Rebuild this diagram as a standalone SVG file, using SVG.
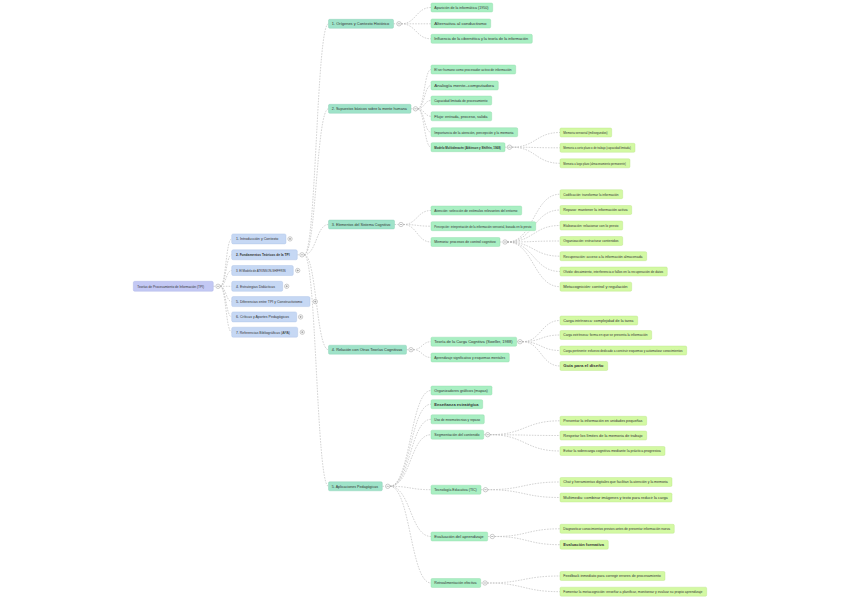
<svg xmlns="http://www.w3.org/2000/svg" width="848" height="599" viewBox="0 0 848 599">
<style>
.t{font-family:"Liberation Sans",Arial,sans-serif;font-size:3.6px;fill:#333}
.b{font-weight:bold}
.r0{fill:#c3c8f4;stroke:#a9b0e6;stroke-width:0.4}
.r1{fill:#c6d8f4;stroke:#a9c0e6;stroke-width:0.4}
.r2{fill:#9fe3c9;stroke:#86cdb1;stroke-width:0.4}
.r3{fill:#a9efc3;stroke:#8fd9a9;stroke-width:0.4}
.r4{fill:#d3f9a3;stroke:#b9e485;stroke-width:0.4}
.k circle{fill:#fff;stroke:#9a9a9a;stroke-width:0.5}
.k path{stroke:#777;stroke-width:0.5;fill:none}
#links path{fill:none;stroke:#b5b5b5;stroke-width:0.6;stroke-dasharray:1.6 1.2}
</style>
<rect width="848" height="599" fill="#fff"/>
<g id="links">
<path d="M213.3 286.3H215.8"/>
<path d="M220.2 286.3C225.95 286.3 225.95 238.9 231.7 238.9"/>
<path d="M220.2 286.3C225.95 286.3 225.95 254.8 231.7 254.8"/>
<path d="M220.2 286.3C225.95 286.3 225.95 270.5 231.7 270.5"/>
<path d="M220.2 286.3H231.7"/>
<path d="M220.2 286.3C225.95 286.3 225.95 301.6 231.7 301.6"/>
<path d="M220.2 286.3C225.95 286.3 225.95 316.9 231.7 316.9"/>
<path d="M220.2 286.3C225.95 286.3 225.95 332.2 231.7 332.2"/>
<path d="M297.3 254.8H299.8"/>
<path d="M304.2 254.8C316.35 254.8 316.35 23.8 328.5 23.8"/>
<path d="M304.2 254.8C316.35 254.8 316.35 108.8 328.5 108.8"/>
<path d="M304.2 254.8C316.35 254.8 316.35 224.5 328.5 224.5"/>
<path d="M304.2 254.8C316.35 254.8 316.35 349.7 328.5 349.7"/>
<path d="M304.2 254.8C316.35 254.8 316.35 486.3 328.5 486.3"/>
<path d="M393.5 23.8H396.8"/>
<path d="M401.2 23.8C416.1 23.8 416.1 7.5 431 7.5"/>
<path d="M401.2 23.8H431"/>
<path d="M401.2 23.8C416.1 23.8 416.1 38.8 431 38.8"/>
<path d="M411 108.8H413.3"/>
<path d="M417.7 108.8C424.35 108.8 424.35 69.5 431 69.5"/>
<path d="M417.7 108.8C424.35 108.8 424.35 85.5 431 85.5"/>
<path d="M417.7 108.8C424.35 108.8 424.35 100.5 431 100.5"/>
<path d="M417.7 108.8C424.35 108.8 424.35 116.3 431 116.3"/>
<path d="M417.7 108.8C424.35 108.8 424.35 132.2 431 132.2"/>
<path d="M417.7 108.8C424.35 108.8 424.35 147.2 431 147.2"/>
<path d="M394.5 224.5H398.8"/>
<path d="M403.2 224.5C417.1 224.5 417.1 210.5 431 210.5"/>
<path d="M403.2 224.5C417.1 224.5 417.1 226.2 431 226.2"/>
<path d="M403.2 224.5C417.1 224.5 417.1 242 431 242"/>
<path d="M406.5 349.7H408.8"/>
<path d="M413.2 349.7C422.1 349.7 422.1 341.7 431 341.7"/>
<path d="M413.2 349.7C422.1 349.7 422.1 357.5 431 357.5"/>
<path d="M382.3 486.3H385.5"/>
<path d="M389.9 486.3C410.45 486.3 410.45 390.5 431 390.5"/>
<path d="M389.9 486.3C410.45 486.3 410.45 404.2 431 404.2"/>
<path d="M389.9 486.3C410.45 486.3 410.45 419.3 431 419.3"/>
<path d="M389.9 486.3C410.45 486.3 410.45 434.7 431 434.7"/>
<path d="M389.9 486.3C410.45 486.3 410.45 489.7 431 489.7"/>
<path d="M389.9 486.3C410.45 486.3 410.45 536.5 431 536.5"/>
<path d="M389.9 486.3C410.45 486.3 410.45 583 431 583"/>
<path d="M505 147.2H507.3"/>
<path d="M511.7 147.2C535.85 147.2 535.85 132.5 560 132.5"/>
<path d="M511.7 147.2C535.85 147.2 535.85 147.8 560 147.8"/>
<path d="M511.7 147.2C535.85 147.2 535.85 163.3 560 163.3"/>
<path d="M500 242H502.8"/>
<path d="M507.2 242C533.6 242 533.6 194.2 560 194.2"/>
<path d="M507.2 242C533.6 242 533.6 210 560 210"/>
<path d="M507.2 242C533.6 242 533.6 225.5 560 225.5"/>
<path d="M507.2 242C533.6 242 533.6 241 560 241"/>
<path d="M507.2 242C533.6 242 533.6 256.2 560 256.2"/>
<path d="M507.2 242C533.6 242 533.6 271.5 560 271.5"/>
<path d="M507.2 242C533.6 242 533.6 286.7 560 286.7"/>
<path d="M516.7 341.7H517.8"/>
<path d="M522.2 341.7C541.1 341.7 541.1 320.5 560 320.5"/>
<path d="M522.2 341.7C541.1 341.7 541.1 335 560 335"/>
<path d="M522.2 341.7C541.1 341.7 541.1 350.5 560 350.5"/>
<path d="M522.2 341.7C541.1 341.7 541.1 366 560 366"/>
<path d="M483.7 434.7H485.5"/>
<path d="M489.9 434.7C524.95 434.7 524.95 420.8 560 420.8"/>
<path d="M489.9 434.7C524.95 434.7 524.95 435.5 560 435.5"/>
<path d="M489.9 434.7C524.95 434.7 524.95 451 560 451"/>
<path d="M481 489.7H483.3"/>
<path d="M487.7 489.7C523.85 489.7 523.85 482 560 482"/>
<path d="M487.7 489.7C523.85 489.7 523.85 497.5 560 497.5"/>
<path d="M487.7 536.5H490.1"/>
<path d="M494.5 536.5C527.25 536.5 527.25 528.8 560 528.8"/>
<path d="M494.5 536.5C527.25 536.5 527.25 544.7 560 544.7"/>
<path d="M480.7 583H482.8"/>
<path d="M487.2 583C523.6 583 523.6 576 560 576"/>
<path d="M487.2 583C523.6 583 523.6 591.7 560 591.7"/>
</g>

<g id="n-root"><rect class="r0" x="133.3" y="281.3" width="80" height="10" rx="1.5"/><text class="t" x="137.3" y="287.6" textLength="66.7" lengthAdjust="spacingAndGlyphs">Teorías de Procesamiento de Información (TPI)</text></g>

<g id="n1-1"><rect class="r1" x="231.7" y="233.9" width="54.3" height="10" rx="1.5"/><text class="t" x="236" y="240.2" textLength="42.3" lengthAdjust="spacingAndGlyphs">1. Introducción y Contexto</text></g>
<g id="n1-2"><rect class="r1" x="231.7" y="249.8" width="65.6" height="10" rx="1.5"/><text class="t b" x="236" y="256.1" textLength="53.6" lengthAdjust="spacingAndGlyphs">2. Fundamentos Teóricos de la TPI</text></g>
<g id="n1-3"><rect class="r1" x="231.7" y="265.5" width="61.6" height="10" rx="1.5"/><text class="t" x="236" y="271.8" textLength="49.6" lengthAdjust="spacingAndGlyphs">3. El Modelo de ATKINSON-SHIFFRIN</text></g>
<g id="n1-4"><rect class="r1" x="231.7" y="281.3" width="51" height="10" rx="1.5"/><text class="t" x="236" y="287.6" textLength="39" lengthAdjust="spacingAndGlyphs">4. Estrategias Didácticas</text></g>
<g id="n1-5"><rect class="r1" x="231.7" y="296.6" width="78.3" height="10" rx="1.5"/><text class="t" x="236" y="302.9" textLength="66.3" lengthAdjust="spacingAndGlyphs">5. Diferencias entre TPI y Constructivismo</text></g>
<g id="n1-6"><rect class="r1" x="231.7" y="311.9" width="65" height="10" rx="1.5"/><text class="t" x="236" y="318.2" textLength="53" lengthAdjust="spacingAndGlyphs">6. Críticas y Aportes Pedagógicos</text></g>
<g id="n1-7"><rect class="r1" x="231.7" y="327.2" width="66" height="10" rx="1.5"/><text class="t" x="236" y="333.5" textLength="54" lengthAdjust="spacingAndGlyphs">7. Referencias Bibliográficas (APA)</text></g>

<g id="n2-a"><rect class="r2" x="328.5" y="19.3" width="65" height="9" rx="1.3"/><text class="t" x="331.8" y="25.1" textLength="57.5" lengthAdjust="spacingAndGlyphs">1. Orígenes y Contexto Histórico</text></g>
<g id="n2-b"><rect class="r2" x="328.5" y="104.3" width="82.5" height="9" rx="1.3"/><text class="t" x="331.8" y="110.1" textLength="75" lengthAdjust="spacingAndGlyphs">2. Supuestos básicos sobre la mente humana</text></g>
<g id="n2-c"><rect class="r2" x="328.5" y="220" width="66" height="9" rx="1.3"/><text class="t" x="331.8" y="225.8" textLength="58.5" lengthAdjust="spacingAndGlyphs">3. Elementos del Sistema Cognitivo</text></g>
<g id="n2-d"><rect class="r2" x="328.5" y="345.2" width="78" height="9" rx="1.3"/><text class="t" x="331.8" y="351" textLength="70.5" lengthAdjust="spacingAndGlyphs">4. Relación con Otras Teorías Cognitivas</text></g>
<g id="n2-e"><rect class="r2" x="328.5" y="481.8" width="53.8" height="9" rx="1.3"/><text class="t" x="331.8" y="487.6" textLength="46.3" lengthAdjust="spacingAndGlyphs">5. Aplicaciones Pedagógicas</text></g>

<g id="n3-a1"><rect class="r3" x="431" y="3" width="61.7" height="9" rx="1.3"/><text class="t" x="434.3" y="8.8" textLength="54.2" lengthAdjust="spacingAndGlyphs">Aparición de la informática (1950)</text></g>
<g id="n3-a2"><rect class="r3" x="431" y="19" width="59.7" height="9" rx="1.3"/><text class="t" x="434.3" y="24.8" textLength="52.2" lengthAdjust="spacingAndGlyphs">Alternativa al conductismo</text></g>
<g id="n3-a3"><rect class="r3" x="431" y="34.3" width="101.3" height="9" rx="1.3"/><text class="t" x="434.3" y="40.1" textLength="93.8" lengthAdjust="spacingAndGlyphs">Influencia de la cibernética y la teoría de la información</text></g>

<g id="n3-b1"><rect class="r3" x="431" y="65" width="84.7" height="9" rx="1.3"/><text class="t" x="434.3" y="70.8" textLength="77.2" lengthAdjust="spacingAndGlyphs">El ser humano como procesador activo de información</text></g>
<g id="n3-b2"><rect class="r3" x="431" y="81" width="67.3" height="9" rx="1.3"/><text class="t" x="434.3" y="86.8" textLength="59.8" lengthAdjust="spacingAndGlyphs">Analogía mente–computadora</text></g>
<g id="n3-b3"><rect class="r3" x="431" y="96" width="60.7" height="9" rx="1.3"/><text class="t" x="434.3" y="101.8" textLength="53.2" lengthAdjust="spacingAndGlyphs">Capacidad limitada de procesamiento</text></g>
<g id="n3-b4"><rect class="r3" x="431" y="111.8" width="60.7" height="9" rx="1.3"/><text class="t" x="434.3" y="117.6" textLength="53.2" lengthAdjust="spacingAndGlyphs">Flujo: entrada, proceso, salida</text></g>
<g id="n3-b5"><rect class="r3" x="431" y="127.7" width="86.7" height="9" rx="1.3"/><text class="t" x="434.3" y="133.5" textLength="79.2" lengthAdjust="spacingAndGlyphs">Importancia de la atención, percepción y la memoria</text></g>
<g id="n3-b6"><rect class="r3" x="431" y="142.7" width="74" height="9" rx="1.3"/><text class="t b" x="434.3" y="148.5" textLength="66.5" lengthAdjust="spacingAndGlyphs">Modelo Multialmacén (Atkinson y Shiffrin, 1968)</text></g>

<g id="n4-b6-1"><rect class="r4" x="560" y="128" width="51.7" height="9" rx="1.3"/><text class="t" x="563.3" y="133.8" textLength="44.2" lengthAdjust="spacingAndGlyphs">Memoria sensorial (milisegundos)</text></g>
<g id="n4-b6-2"><rect class="r4" x="560" y="143.3" width="75" height="9" rx="1.3"/><text class="t" x="563.3" y="149.1" textLength="67.5" lengthAdjust="spacingAndGlyphs">Memoria a corto plazo o de trabajo (capacidad limitada)</text></g>
<g id="n4-b6-3"><rect class="r4" x="560" y="158.8" width="70" height="9" rx="1.3"/><text class="t" x="563.3" y="164.6" textLength="62.5" lengthAdjust="spacingAndGlyphs">Memoria a largo plazo (almacenamiento permanente)</text></g>

<g id="n3-c1"><rect class="r3" x="431" y="206" width="90.7" height="9" rx="1.3"/><text class="t" x="434.3" y="211.8" textLength="83.2" lengthAdjust="spacingAndGlyphs">Atención: selección de estímulos relevantes del entorno</text></g>
<g id="n3-c2"><rect class="r3" x="431" y="221.7" width="104.7" height="9" rx="1.3"/><text class="t" x="434.3" y="227.5" textLength="97.2" lengthAdjust="spacingAndGlyphs">Percepción: interpretación de la información sensorial, basada en lo previo</text></g>
<g id="n3-c3"><rect class="r3" x="431" y="237.5" width="69" height="9" rx="1.3"/><text class="t" x="434.3" y="243.3" textLength="61.5" lengthAdjust="spacingAndGlyphs">Memoria: procesos de control cognitivo</text></g>

<g id="n4-c3-1"><rect class="r4" x="560" y="189.7" width="62.7" height="9" rx="1.3"/><text class="t" x="563.3" y="195.5" textLength="55.2" lengthAdjust="spacingAndGlyphs">Codificación: transformar la información</text></g>
<g id="n4-c3-2"><rect class="r4" x="560" y="205.5" width="71.7" height="9" rx="1.3"/><text class="t" x="563.3" y="211.3" textLength="64.2" lengthAdjust="spacingAndGlyphs">Repaso: mantener la información activa</text></g>
<g id="n4-c3-3"><rect class="r4" x="560" y="221" width="62.7" height="9" rx="1.3"/><text class="t" x="563.3" y="226.8" textLength="55.2" lengthAdjust="spacingAndGlyphs">Elaboración: relacionar con lo previo</text></g>
<g id="n4-c3-4"><rect class="r4" x="560" y="236.5" width="62.7" height="9" rx="1.3"/><text class="t" x="563.3" y="242.3" textLength="55.2" lengthAdjust="spacingAndGlyphs">Organización: estructurar contenidos</text></g>
<g id="n4-c3-5"><rect class="r4" x="560" y="251.7" width="86.7" height="9" rx="1.3"/><text class="t" x="563.3" y="257.5" textLength="79.2" lengthAdjust="spacingAndGlyphs">Recuperación: acceso a la información almacenada</text></g>
<g id="n4-c3-6"><rect class="r4" x="560" y="267" width="107.3" height="9" rx="1.3"/><text class="t" x="563.3" y="272.8" textLength="99.8" lengthAdjust="spacingAndGlyphs">Olvido: decaimiento, interferencia o fallos en la recuperación de datos</text></g>
<g id="n4-c3-7"><rect class="r4" x="560" y="282.2" width="71.7" height="9" rx="1.3"/><text class="t" x="563.3" y="288" textLength="64.2" lengthAdjust="spacingAndGlyphs">Metacognición: control y regulación</text></g>

<g id="n3-d1"><rect class="r3" x="431" y="337.2" width="85.7" height="9" rx="1.3"/><text class="t" x="434.3" y="343" textLength="78.2" lengthAdjust="spacingAndGlyphs">Teoría de la Carga Cognitiva (Sweller, 1988)</text></g>
<g id="n3-d2"><rect class="r3" x="431" y="353" width="78.3" height="9" rx="1.3"/><text class="t" x="434.3" y="358.8" textLength="70.8" lengthAdjust="spacingAndGlyphs">Aprendizaje significativo y esquemas mentales</text></g>

<g id="n4-d1-1"><rect class="r4" x="560" y="316" width="77.7" height="9" rx="1.3"/><text class="t" x="563.3" y="321.8" textLength="70.2" lengthAdjust="spacingAndGlyphs">Carga intrínseca: complejidad de la tarea</text></g>
<g id="n4-d1-2"><rect class="r4" x="560" y="330.5" width="91.7" height="9" rx="1.3"/><text class="t" x="563.3" y="336.3" textLength="84.2" lengthAdjust="spacingAndGlyphs">Carga extrínseca: forma en que se presenta la información</text></g>
<g id="n4-d1-3"><rect class="r4" x="560" y="346" width="126.7" height="9" rx="1.3"/><text class="t" x="563.3" y="351.8" textLength="119.2" lengthAdjust="spacingAndGlyphs">Carga pertinente: esfuerzo dedicado a construir esquemas y automatizar conocimientos</text></g>
<g id="n4-d1-4"><rect class="r4" x="560" y="361.5" width="47.7" height="9" rx="1.3"/><text class="t b" x="563.3" y="367.3" textLength="40.2" lengthAdjust="spacingAndGlyphs">Guía para el diseño</text></g>

<g id="n3-e1"><rect class="r3" x="431" y="386" width="61" height="9" rx="1.3"/><text class="t" x="434.3" y="391.8" textLength="53.5" lengthAdjust="spacingAndGlyphs">Organizadores gráficos (mapas)</text></g>
<g id="n3-e2"><rect class="r3" x="431" y="399.7" width="51.7" height="9" rx="1.3"/><text class="t b" x="434.3" y="405.5" textLength="44.2" lengthAdjust="spacingAndGlyphs">Enseñanza estratégica</text></g>
<g id="n3-e3"><rect class="r3" x="431" y="414.8" width="53.3" height="9" rx="1.3"/><text class="t" x="434.3" y="420.6" textLength="45.8" lengthAdjust="spacingAndGlyphs">Uso de mnemotecnias y repaso</text></g>
<g id="n3-e4"><rect class="r3" x="431" y="430.2" width="52.7" height="9" rx="1.3"/><text class="t" x="434.3" y="436" textLength="45.2" lengthAdjust="spacingAndGlyphs">Segmentación del contenido</text></g>

<g id="n4-e4-1"><rect class="r4" x="560" y="416.3" width="86.7" height="9" rx="1.3"/><text class="t" x="563.3" y="422.1" textLength="79.2" lengthAdjust="spacingAndGlyphs">Presentar la información en unidades pequeñas</text></g>
<g id="n4-e4-2"><rect class="r4" x="560" y="431" width="86.7" height="9" rx="1.3"/><text class="t" x="563.3" y="436.8" textLength="79.2" lengthAdjust="spacingAndGlyphs">Respetar los límites de la memoria de trabajo</text></g>
<g id="n4-e4-3"><rect class="r4" x="560" y="446.5" width="105" height="9" rx="1.3"/><text class="t" x="563.3" y="452.3" textLength="97.5" lengthAdjust="spacingAndGlyphs">Evitar la sobrecarga cognitiva mediante la práctica progresiva</text></g>

<g id="n3-e5"><rect class="r3" x="431" y="485.2" width="50" height="9" rx="1.3"/><text class="t" x="434.3" y="491" textLength="42.5" lengthAdjust="spacingAndGlyphs">Tecnología Educativa (TIC)</text></g>
<g id="n4-e5-1"><rect class="r4" x="560" y="477.5" width="112" height="9" rx="1.3"/><text class="t" x="563.3" y="483.3" textLength="104.5" lengthAdjust="spacingAndGlyphs">Chat y herramientas digitales que facilitan la atención y la memoria</text></g>
<g id="n4-e5-2"><rect class="r4" x="560" y="493" width="112" height="9" rx="1.3"/><text class="t" x="563.3" y="498.8" textLength="104.5" lengthAdjust="spacingAndGlyphs">Multimedia: combinar imágenes y texto para reducir la carga</text></g>

<g id="n3-e6"><rect class="r3" x="431" y="532" width="56.7" height="9" rx="1.3"/><text class="t" x="434.3" y="537.8" textLength="49.2" lengthAdjust="spacingAndGlyphs">Evaluación del aprendizaje</text></g>
<g id="n4-e6-1"><rect class="r4" x="560" y="524.3" width="114.3" height="9" rx="1.3"/><text class="t" x="563.3" y="530.1" textLength="106.8" lengthAdjust="spacingAndGlyphs">Diagnosticar conocimientos previos antes de presentar información nueva</text></g>
<g id="n4-e6-2"><rect class="r4" x="560" y="540.2" width="48.3" height="9" rx="1.3"/><text class="t b" x="563.3" y="546" textLength="40.8" lengthAdjust="spacingAndGlyphs">Evaluación formativa</text></g>

<g id="n3-e7"><rect class="r3" x="431" y="578.5" width="49.7" height="9" rx="1.3"/><text class="t" x="434.3" y="584.3" textLength="42.2" lengthAdjust="spacingAndGlyphs">Retroalimentación efectiva</text></g>
<g id="n4-e7-1"><rect class="r4" x="560" y="571.5" width="105" height="9" rx="1.3"/><text class="t" x="563.3" y="577.3" textLength="97.5" lengthAdjust="spacingAndGlyphs">Feedback inmediato para corregir errores de procesamiento</text></g>
<g id="n4-e7-2"><rect class="r4" x="560" y="587.2" width="146.7" height="9" rx="1.3"/><text class="t" x="563.3" y="593" textLength="139.2" lengthAdjust="spacingAndGlyphs">Fomentar la metacognición: enseñar a planificar, monitorear y evaluar su propio aprendizaje</text></g>

<g id="toggles" class="k">
<circle cx="218" cy="286.3" r="2.2"/><path d="M216.9 286.3h2.2"/>
<circle cx="290" cy="238.9" r="2.2"/><path d="M288.9 238.9h2.2M290 237.8v2.2"/>
<circle cx="302" cy="254.8" r="2.2"/><path d="M300.9 254.8h2.2"/>
<circle cx="297.7" cy="270.5" r="2.2"/><path d="M296.6 270.5h2.2M297.7 269.4v2.2"/>
<circle cx="286.7" cy="286.3" r="2.2"/><path d="M285.6 286.3h2.2M286.7 285.2v2.2"/>
<circle cx="315.3" cy="301.6" r="2.2"/><path d="M314.2 301.6h2.2M315.3 300.5v2.2"/>
<circle cx="300.6" cy="316.9" r="2.2"/><path d="M299.5 316.9h2.2M300.6 315.8v2.2"/>
<circle cx="302.3" cy="332.2" r="2.2"/><path d="M301.2 332.2h2.2M302.3 331.1v2.2"/>
<circle cx="399" cy="23.8" r="2.2"/><path d="M397.9 23.8h2.2"/>
<circle cx="415.5" cy="108.8" r="2.2"/><path d="M414.4 108.8h2.2"/>
<circle cx="401" cy="224.5" r="2.2"/><path d="M399.9 224.5h2.2"/>
<circle cx="411" cy="349.7" r="2.2"/><path d="M409.9 349.7h2.2"/>
<circle cx="387.7" cy="486.3" r="2.2"/><path d="M386.6 486.3h2.2"/>
<circle cx="509.5" cy="147.2" r="2.2"/><path d="M508.4 147.2h2.2"/>
<circle cx="505" cy="242" r="2.2"/><path d="M503.9 242h2.2"/>
<circle cx="520" cy="341.7" r="2.2"/><path d="M518.9 341.7h2.2"/>
<circle cx="487.7" cy="434.7" r="2.2"/><path d="M486.6 434.7h2.2"/>
<circle cx="485.5" cy="489.7" r="2.2"/><path d="M484.4 489.7h2.2"/>
<circle cx="492.3" cy="536.5" r="2.2"/><path d="M491.2 536.5h2.2"/>
<circle cx="485" cy="583" r="2.2"/><path d="M483.9 583h2.2"/>
</g>
</svg>
